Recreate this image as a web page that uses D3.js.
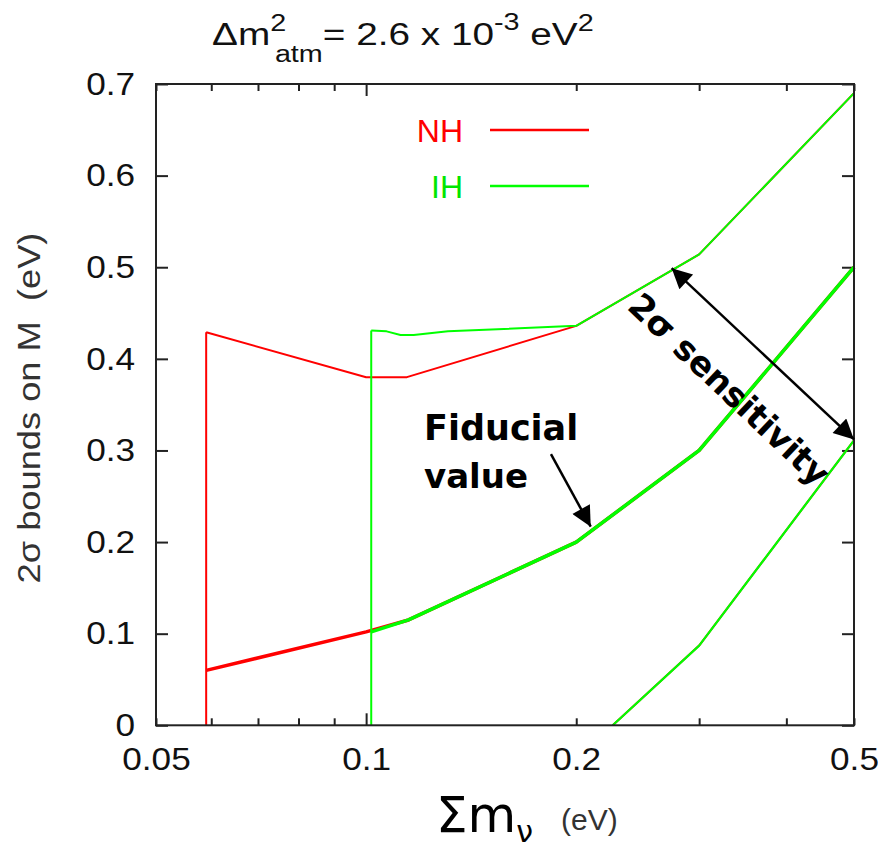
<!DOCTYPE html>
<html>
<head>
<meta charset="utf-8">
<script src="https://cdn.jsdelivr.net/npm/d3@7"></script>
<style>
  html, body { margin: 0; padding: 0; background: #fff; }
  svg { display: block; }
</style>
</head>
<body>
<svg id="chart" width="878" height="848"></svg>
<script>
// Sum of neutrino masses (eV) vs 2-sigma bounds on M (eV)
const xTickValues = [0.05, 0.06, 0.07, 0.08, 0.09, 0.1, 0.2, 0.3, 0.4, 0.5];
const xTickLabels = ["0.05", "", "", "", "", "0.1", "0.2", "", "", "0.5"];
const yTickValues = [0, 0.1, 0.2, 0.3, 0.4, 0.5, 0.6, 0.7];
const yTickLabels = ["0", "0.1", "0.2", "0.3", "0.4", "0.5", "0.6", "0.7"];

// Normal hierarchy (NH)
const nhEdge     = [[0.059, 0], [0.059, 0.429]];
const nhUpper    = [[0.059, 0.429], [0.1, 0.380], [0.1144, 0.380], [0.2, 0.436], [0.3, 0.514], [0.5, 0.690]];
const nhFiducial = [[0.059, 0.060], [0.1, 0.102], [0.115, 0.115], [0.2, 0.200], [0.3, 0.300], [0.5, 0.500]];
const nhLower    = [[0.2256, 0], [0.3, 0.087], [0.5, 0.311]];

// Inverted hierarchy (IH)
const ihEdge     = [[0.1017, 0], [0.1017, 0.431]];
const ihUpper    = [[0.1017, 0.431], [0.107, 0.430], [0.112, 0.426], [0.117, 0.426], [0.131, 0.430], [0.2, 0.436], [0.3, 0.514], [0.5, 0.690]];
const ihFiducial = [[0.1017, 0.102], [0.115, 0.115], [0.2, 0.200], [0.3, 0.300], [0.5, 0.500]];
const ihLower    = [[0.2256, 0], [0.3, 0.087], [0.5, 0.311]];

const legendItems = ["NH", "IH"];
const legendColors = ["#ff0000", "#00e600"];

// Annotation arrows, in data units
const fiducialArrow = [[0.184, 0.296], [0.2098, 0.2168]];
const sensitivityArrow = [[0.274, 0.499], [0.5, 0.312]];

const RED = "#ff0000", GREEN = "#00ff00";
const SANS = "Liberation Sans, Arial, sans-serif";

const svg = d3.select("#chart");
const plot = { left: 156, right: 854, top: 84, bottom: 725.3 };

const x = d3.scaleLog().domain([0.05, 0.5]).range([plot.left, plot.right]);
const y = d3.scaleLinear().domain([0, 0.7]).range([plot.bottom, plot.top]);

const line = d3.line().x(d => x(d[0])).y(d => y(d[1]));

// axes (ticks inward, mirrored)
const majorX = new Set([0.1]);
const xTickLen = v => majorX.has(v) ? 12 : 7;

const xBottom = svg.append("g").attr("transform", `translate(0,${plot.bottom})`)
  .call(d3.axisBottom(x).tickValues(xTickValues).tickSize(0).tickFormat((d, i) => xTickLabels[i]).tickPadding(21));
xBottom.select(".domain").remove();
xBottom.selectAll(".tick text").attr("font-family", SANS).attr("font-size", 32).attr("fill", "#111")
  .attr("dy", "0.75em").attr("transform", "scale(1.1,1)");
xBottom.selectAll(".tick").append("line").attr("y1", 0).attr("y2", d => -xTickLen(d)).attr("stroke", "#222").attr("stroke-width", 2);

const xTop = svg.append("g").attr("transform", `translate(0,${plot.top})`)
  .call(d3.axisTop(x).tickValues(xTickValues).tickSize(0).tickFormat(""));
xTop.select(".domain").remove();
xTop.selectAll(".tick").append("line").attr("y1", 0).attr("y2", d => xTickLen(d)).attr("stroke", "#222").attr("stroke-width", 2);

const yLeft = svg.append("g").attr("transform", `translate(${plot.left},0)`)
  .call(d3.axisLeft(y).tickValues(yTickValues).tickSize(0).tickFormat((d, i) => yTickLabels[i]).tickPadding(19));
yLeft.select(".domain").remove();
yLeft.selectAll(".tick text").attr("font-family", SANS).attr("font-size", 32).attr("fill", "#111")
  .attr("transform", "scale(1.1,1)");
yLeft.selectAll(".tick").append("line").attr("x1", 0).attr("x2", 12).attr("stroke", "#222").attr("stroke-width", 2);

const yRight = svg.append("g").attr("transform", `translate(${plot.right},0)`)
  .call(d3.axisRight(y).tickValues(yTickValues).tickSize(0).tickFormat(""));
yRight.select(".domain").remove();
yRight.selectAll(".tick").append("line").attr("x1", 0).attr("x2", -12).attr("stroke", "#222").attr("stroke-width", 2);

// curves: NH drawn first, IH on top
function curve(data, color, width) {
  svg.append("path").datum(data).attr("d", line)
    .attr("fill", "none").attr("stroke", color).attr("stroke-width", width)
    .attr("stroke-linejoin", "round");
}
curve(nhEdge, RED, 2);
curve(nhUpper, RED, 2);
curve(nhLower, RED, 2);
curve(nhFiducial, RED, 3.5);
curve(ihEdge, GREEN, 2);
curve(ihUpper, GREEN, 2);
curve(ihLower, GREEN, 2.2);
curve(ihFiducial, GREEN, 3.5);

// frame
svg.append("rect").attr("x", plot.left).attr("y", plot.top)
  .attr("width", plot.right - plot.left).attr("height", plot.bottom - plot.top)
  .attr("fill", "none").attr("stroke", "#222").attr("stroke-width", 2);

// legend
const legend = svg.append("g");
legendItems.forEach((name, i) => {
  const ly = 130 + i * 56;
  legend.append("text").attr("x", 463).attr("y", ly).attr("dy", "0.36em")
    .attr("text-anchor", "end").attr("font-family", SANS)
    .attr("font-size", 32).attr("fill", legendColors[i]).text(name);
  legend.append("line").attr("x1", 490).attr("x2", 589).attr("y1", ly).attr("y2", ly)
    .attr("stroke", i === 0 ? RED : GREEN).attr("stroke-width", 2.5);
});

// title
const title = svg.append("text").attr("transform", "translate(212,45) scale(1.25,1)")
  .attr("font-family", SANS).attr("font-size", 31).attr("fill", "#111");
title.append("tspan").text("Δm");
title.append("tspan").attr("font-size", 23).attr("dy", -14).text("2");
title.append("tspan").attr("font-size", 23).attr("dx", -9).attr("dy", 31).text("atm");
title.append("tspan").attr("dy", -17).text("= 2.6 x 10");
title.append("tspan").attr("font-size", 23).attr("dy", -15).text("-3");
title.append("tspan").attr("dy", 15).text(" eV");
title.append("tspan").attr("font-size", 23).attr("dy", -14).text("2");

// y axis title
svg.append("text").attr("transform", "translate(40,408) rotate(-90) scale(1.17,1)")
  .attr("text-anchor", "middle").attr("font-family", SANS)
  .attr("font-size", 31).attr("fill", "#333").attr("xml:space", "preserve").text("2σ bounds on M  (eV)");

// x axis title
const xt = svg.append("text").attr("x", 436).attr("y", 832).attr("fill", "#000");
xt.append("tspan").attr("font-family", "DejaVu Sans, sans-serif").attr("font-size", 50).text("Σm");
xt.append("tspan").attr("font-family", "DejaVu Sans, sans-serif").attr("font-size", 30).attr("dy", 10).attr("dx", 0).text("ν");
xt.append("tspan").attr("font-family", SANS).attr("font-size", 30)
  .attr("fill", "#333").attr("dy", -12).attr("dx", 28).text("(eV)");

// arrowheads
const defs = svg.append("defs");
defs.append("marker").attr("id", "head").attr("viewBox", "0 0 10 10").attr("refX", 10).attr("refY", 5)
  .attr("markerWidth", 26).attr("markerHeight", 20).attr("markerUnits", "userSpaceOnUse").attr("orient", "auto-start-reverse")
  .append("path").attr("d", "M0,0 L10,5 L0,10 Z").attr("fill", "#000");

svg.append("path").datum(fiducialArrow).attr("d", line)
  .attr("stroke", "#000").attr("stroke-width", 2.5).attr("fill", "none").attr("marker-end", "url(#head)");
svg.append("path").datum(sensitivityArrow).attr("d", line)
  .attr("stroke", "#000").attr("stroke-width", 2.5).attr("fill", "none")
  .attr("marker-start", "url(#head)").attr("marker-end", "url(#head)");

// annotation labels
const note = svg.append("g").attr("font-family", "DejaVu Sans, sans-serif").attr("font-weight", "bold").attr("fill", "#000");
note.append("text").attr("x", 424).attr("y", 440).attr("font-size", 35).text("Fiducial");
note.append("text").attr("x", 424).attr("y", 488).attr("font-size", 34).text("value");
note.append("text").attr("transform", "translate(721,398) rotate(43.4)").attr("text-anchor", "middle")
  .attr("font-size", 34).text("2σ sensitivity");
</script>
</body>
</html>
